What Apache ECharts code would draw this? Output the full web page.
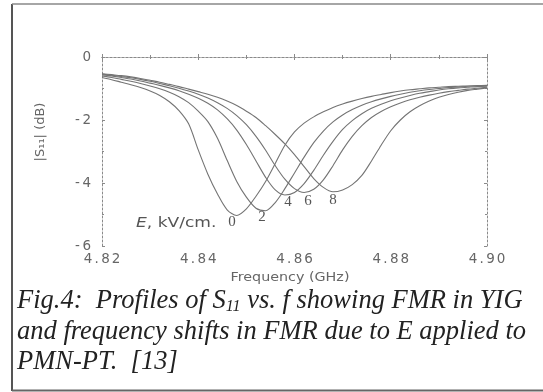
<!DOCTYPE html>
<html>
<head>
<meta charset="utf-8">
<script src="https://cdn.jsdelivr.net/npm/echarts@6/dist/echarts.min.js"></script>
<style>
  html, body { margin: 0; padding: 0; background: #fff; }
  #fig { width: 543px; height: 392px; }
</style>
</head>
<body>
<div id="fig"></div>
<script>
// frequency grid (GHz)
var freq = [4.820, 4.822, 4.824, 4.826, 4.828, 4.830, 4.832, 4.834, 4.836, 4.838,
            4.840, 4.842, 4.844, 4.846, 4.848, 4.850, 4.852, 4.854, 4.856, 4.858,
            4.860, 4.862, 4.864, 4.866, 4.868, 4.870, 4.872, 4.874, 4.876, 4.878,
            4.880, 4.882, 4.884, 4.886, 4.888, 4.890, 4.892, 4.894, 4.896, 4.898, 4.900];

// |S11| in dB for each applied field E (kV/cm)
var s11_e0 = [-0.65, -0.72, -0.80, -0.88, -0.97, -1.08, -1.22, -1.42, -1.70, -2.12,
              -2.95, -3.72, -4.35, -4.85, -5.03, -4.82, -4.42, -3.95, -3.38, -2.80,
              -2.38, -2.10, -1.90, -1.74, -1.60, -1.49, -1.40, -1.32, -1.25, -1.19,
              -1.13, -1.08, -1.04, -1.01, -0.98, -0.96, -0.94, -0.93, -0.92, -0.91, -0.90];
var s11_e2 = [-0.60, -0.65, -0.71, -0.77, -0.84, -0.92, -1.01, -1.12, -1.26, -1.45,
              -1.72, -2.05, -2.58, -3.28, -3.95, -4.45, -4.80, -4.88, -4.62, -4.18,
              -3.68, -3.18, -2.72, -2.35, -2.06, -1.84, -1.67, -1.53, -1.42, -1.33,
              -1.25, -1.18, -1.12, -1.07, -1.03, -1.00, -0.97, -0.95, -0.93, -0.92, -0.91];
var s11_e4 = [-0.56, -0.60, -0.65, -0.70, -0.76, -0.83, -0.90, -0.98, -1.07, -1.18,
              -1.31, -1.47, -1.68, -1.96, -2.32, -2.78, -3.30, -3.82, -4.22, -4.38,
              -4.30, -4.02, -3.60, -3.12, -2.68, -2.30, -2.02, -1.80, -1.63, -1.50,
              -1.39, -1.30, -1.22, -1.15, -1.10, -1.05, -1.01, -0.98, -0.96, -0.94, -0.93];
var s11_e6 = [-0.54, -0.58, -0.62, -0.66, -0.71, -0.77, -0.84, -0.91, -0.99, -1.08,
              -1.18, -1.30, -1.45, -1.63, -1.86, -2.15, -2.52, -2.96, -3.45, -3.88,
              -4.18, -4.30, -4.20, -3.90, -3.45, -2.95, -2.52, -2.18, -1.92, -1.73,
              -1.58, -1.46, -1.36, -1.28, -1.21, -1.15, -1.10, -1.06, -1.02, -0.99, -0.96];
var s11_e8 = [-0.53, -0.56, -0.59, -0.63, -0.68, -0.74, -0.80, -0.87, -0.94, -1.02,
              -1.10, -1.18, -1.28, -1.40, -1.54, -1.72, -1.92, -2.18, -2.46, -2.76,
              -3.10, -3.48, -3.86, -4.14, -4.28, -4.22, -4.05, -3.76, -3.30, -2.80,
              -2.34, -2.00, -1.74, -1.55, -1.40, -1.28, -1.19, -1.12, -1.06, -1.02, -0.98];

var fieldNames = ['0', '2', '4', '6', '8'];
var curves = [s11_e0, s11_e2, s11_e4, s11_e6, s11_e8];

var chart = echarts.init(document.getElementById('fig'), null, {renderer: 'canvas'});

var lineCol = '#747474';
var axisCol = '#8a8a8a';
var labCol = '#666';
var labFont = 'DejaVu Sans';

// the scanned tick labels are a little widely spaced: put every char in its own box
function spaced(s) {
    return s.split('').map(function (c) {
        if (c === '.') return '{p|.}';
        if (c === '-') return '{m|-}';
        return '{d|' + c + '}';
    }).join('');
}
var charBoxes = {
    d: {width: 10.5, align: 'center', color: labCol, fontSize: 13.5, fontFamily: labFont},
    p: {width: 7, align: 'center', color: labCol, fontSize: 13.5, fontFamily: labFont},
    m: {width: 8, align: 'center', color: labCol, fontSize: 13.5, fontFamily: labFont}
};

function mkSeries(vals, idx) {
    return {
        name: 'E = ' + fieldNames[idx],
        type: 'line',
        smooth: 0.3,
        symbol: 'none',
        lineStyle: {color: lineCol, width: 1.1},
        data: freq.map(function (f, i) { return [f, vals[i]]; })
    };
}

var boxAxis = {
    axisLine: {lineStyle: {color: axisCol, width: 1, type: [2, 2]}},
    axisTick: {inside: true, length: 3, lineStyle: {color: axisCol}},
    minorTick: {show: true, splitNumber: 2, length: 2, lineStyle: {color: axisCol}},
    splitLine: {show: false}
};

var option = {
    backgroundColor: '#fff',
    animation: false,
    grid: {left: 102, top: 57, width: 385, height: 189},
    xAxis: [
        Object.assign({
            type: 'value', min: 4.82, max: 4.90, interval: 0.02, position: 'bottom',
            axisLabel: {margin: 6, rich: charBoxes,
                        formatter: function (v) { return spaced(v.toFixed(2)); }}
        }, boxAxis),
        Object.assign({
            type: 'value', min: 4.82, max: 4.90, interval: 0.02, position: 'top',
            axisLabel: {show: false}
        }, boxAxis)
    ],
    yAxis: [
        Object.assign({
            type: 'value', min: -6, max: 0, interval: 2, position: 'left',
            axisLabel: {margin: 10, rich: charBoxes,
                        formatter: function (v) { return spaced(String(v)); }}
        }, boxAxis),
        Object.assign({
            type: 'value', min: -6, max: 0, interval: 2, position: 'right',
            axisLabel: {show: false}
        }, boxAxis)
    ],
    series: curves.map(mkSeries),
    graphic: [
        // frame of the figure
        {type: 'line', shape: {x1: 12, y1: 4, x2: 12, y2: 391}, style: {stroke: '#555', lineWidth: 2}},
        {type: 'line', shape: {x1: 12, y1: 4, x2: 543, y2: 4}, style: {stroke: '#888', lineWidth: 1.5}},
        {type: 'line', shape: {x1: 12, y1: 390.5, x2: 543, y2: 390.5}, style: {stroke: '#666', lineWidth: 2}},
        // axis titles
        {type: 'text', x: 41, y: 132, rotation: Math.PI / 2,
         style: {text: '|S\u2081\u2081| (dB)', fill: labCol, font: '13px "DejaVu Sans"',
                 align: 'center', verticalAlign: 'middle'}},
        {type: 'text', x: 290, y: 278, scaleX: 1.1,
         style: {text: 'Frequency (GHz)', fill: labCol, font: '13px "DejaVu Sans"',
                 align: 'center', verticalAlign: 'middle'}},
        // curve labels
        {type: 'text', x: 136, y: 223, scaleX: 1.22,
         style: {text: '{i|E}, kV/cm.', fill: '#555', font: '14px "DejaVu Sans"',
                 verticalAlign: 'middle',
                 rich: {i: {fontStyle: 'italic', fontFamily: 'DejaVu Sans', fontSize: 14, fill: '#555'}}}},
        {type: 'text', x: 232, y: 222, style: {text: '0', fill: '#555', font: '15px "Liberation Serif"', align: 'center', verticalAlign: 'middle'}},
        {type: 'text', x: 262, y: 217, style: {text: '2', fill: '#555', font: '15px "Liberation Serif"', align: 'center', verticalAlign: 'middle'}},
        {type: 'text', x: 288, y: 202, style: {text: '4', fill: '#555', font: '15px "Liberation Serif"', align: 'center', verticalAlign: 'middle'}},
        {type: 'text', x: 308, y: 201, style: {text: '6', fill: '#555', font: '15px "Liberation Serif"', align: 'center', verticalAlign: 'middle'}},
        {type: 'text', x: 333, y: 200, style: {text: '8', fill: '#555', font: '15px "Liberation Serif"', align: 'center', verticalAlign: 'middle'}},
        // caption
        {type: 'text', x: 17, y: 301,
         style: {text: 'Fig.4:  Profiles of S{sub|11} vs. f showing FMR in YIG', fill: '#222',
                 font: 'italic 26.5px "Liberation Serif"', verticalAlign: 'middle',
                 rich: {sub: {fontStyle: 'italic', fontFamily: 'Liberation Serif', fontSize: 16,
                              fill: '#222', verticalAlign: 'bottom', padding: [10, 0, 0, 0]}}}},
        {type: 'text', x: 17, y: 332,
         style: {text: 'and frequency shifts in FMR due to E applied to', fill: '#222',
                 font: 'italic 26.5px "Liberation Serif"', verticalAlign: 'middle'}},
        {type: 'text', x: 17, y: 362,
         style: {text: 'PMN-PT.  [13]', fill: '#222',
                 font: 'italic 26.5px "Liberation Serif"', verticalAlign: 'middle'}}
    ]
};

chart.setOption(option);
</script>
</body>
</html>
